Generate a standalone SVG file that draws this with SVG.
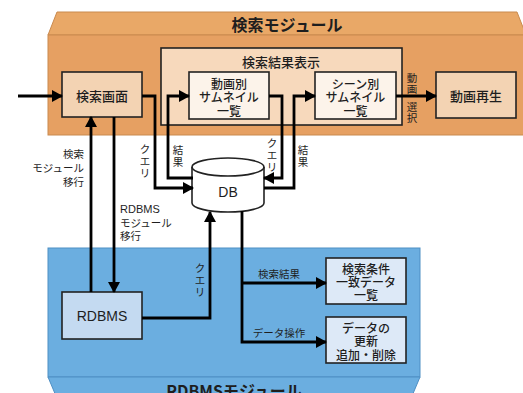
<svg xmlns="http://www.w3.org/2000/svg" width="523" height="393" viewBox="0 0 523 393">
<style>
text{font-family:"Noto Sans CJK JP","Noto Sans",sans-serif;fill:#1e1e1e}
.bt{font-size:13px;text-anchor:middle;dominant-baseline:central;font-weight:500}
.bs{font-size:12px;text-anchor:middle;dominant-baseline:central;font-weight:500}
.lb{font-size:10.5px;dominant-baseline:central}
.vl{font-size:10.5px;text-anchor:middle;dominant-baseline:central}
.ttl{font-size:16px;font-weight:bold;text-anchor:middle;dominant-baseline:central}
.box{stroke:#222;stroke-width:1.6}
.con{fill:none;stroke:#000;stroke-width:2.8;marker-end:url(#ah)}
</style>
<defs>
<marker id="ah" markerUnits="userSpaceOnUse" markerWidth="11" markerHeight="12" refX="10" refY="6" orient="auto">
<path d="M0,0 L11,6 L0,12 Z" fill="#000"/>
</marker>
</defs>
<g id="search-module">
<path d="M48,35 L57,12 L517,12 L526,35 Z" fill="#E9A867" stroke="#C98A4F" stroke-width="1"/>
<rect x="48" y="35" width="480" height="100" fill="#E6A062" stroke="#C98A4F" stroke-width="1"/>
<text class="ttl" x="287" y="24">検索モジュール</text>
</g>
<g id="rdbms-module">
<rect x="48" y="248" width="372" height="129" fill="#6BAEE0" stroke="#4E8FC4" stroke-width="1"/>
<path d="M48,377 L420,377 L412,396 L56,396 Z" fill="#6BAEE0" stroke="#4E8FC4" stroke-width="1"/>
<text class="ttl" x="234" y="390">RDBMSモジュール</text>
</g>
<g id="result-display">
<rect class="box" x="161" y="48" width="241" height="77" fill="#F7D9BC"/>
<text class="bt" x="281" y="61">検索結果表示</text>
</g>
<g id="search-screen">
<rect class="box" x="62" y="72" width="80" height="45" fill="#F3D3B3"/>
<text class="bt" x="102" y="95">検索画面</text>
</g>
<g id="video-thumbs">
<rect class="box" x="189" y="72" width="80" height="47" fill="#FCF3EA"/>
<text class="bs" x="229" y="83">動画別</text>
<text class="bs" x="229" y="96.5">サムネイル</text>
<text class="bs" x="229" y="110">一覧</text>
</g>
<g id="scene-thumbs">
<rect class="box" x="315" y="72" width="81" height="47" fill="#FCF3EA"/>
<text class="bs" x="355.5" y="83">シーン別</text>
<text class="bs" x="355.5" y="96.5">サムネイル</text>
<text class="bs" x="355.5" y="110">一覧</text>
</g>
<g id="playback">
<rect class="box" x="436" y="72" width="80" height="46" fill="#F3D3B3"/>
<text class="bt" x="476" y="95">動画再生</text>
</g>
<g id="db">
<path d="M192,167 A36,9 0 0 1 264,167 V203 A36,9 0 0 1 192,203 Z" fill="#fff" stroke="#222" stroke-width="1.6"/>
<path d="M192,167 A36,9 0 0 0 264,167" fill="none" stroke="#222" stroke-width="1.6"/>
<text class="bt" x="228" y="192" style="font-family:'Liberation Sans','Noto Sans',sans-serif;font-size:14px;font-weight:normal">DB</text>
</g>
<g id="rdbms">
<rect class="box" x="62" y="292" width="80" height="47" fill="#C4DAF1"/>
<text class="bt" x="102" y="316" style="font-family:'Liberation Sans','Noto Sans',sans-serif;font-size:14px;font-weight:normal">RDBMS</text>
</g>
<g id="match-list">
<rect class="box" x="326" y="258" width="80" height="46" fill="#DDE9F7"/>
<text class="bs" x="366" y="268.5">検索条件</text>
<text class="bs" x="366" y="281">一致データ</text>
<text class="bs" x="366" y="294">一覧</text>
</g>
<g id="data-update">
<rect class="box" x="326" y="317" width="80" height="46" fill="#DDE9F7"/>
<text class="bs" x="366" y="327.5">データの</text>
<text class="bs" x="366" y="340.5">更新</text>
<text class="bs" x="366" y="354">追加・削除</text>
</g>
<g id="connectors">
<path class="con" d="M18,96 H62"/>
<path class="con" d="M142,96 H155 V188 H193"/>
<path class="con" d="M193,178 H168 V96 H189"/>
<path class="con" d="M269,96 H282 V178 H264"/>
<path class="con" d="M264,188 H294 V96 H315"/>
<path class="con" d="M396,96 H436"/>
<path class="con" d="M91,292 V117"/>
<path class="con" d="M114,117 V292"/>
<path class="con" d="M142,318 H210 V212"/>
<path class="con" d="M242,211 V342 H326"/>
<path class="con" d="M242,283 H326"/>
</g>
<g id="labels">
<text class="vl" x="145"><tspan x="145" y="148">ク</tspan><tspan x="145" y="160">エ</tspan><tspan x="145" y="172">リ</tspan></text>
<text class="vl" x="178"><tspan x="178" y="149">結</tspan><tspan x="178" y="161">果</tspan></text>
<text class="vl" x="272"><tspan x="272" y="142">ク</tspan><tspan x="272" y="154">エ</tspan><tspan x="272" y="166">リ</tspan></text>
<text class="vl" x="303"><tspan x="303" y="149">結</tspan><tspan x="303" y="161">果</tspan></text>
<text class="vl" x="200"><tspan x="200" y="267">ク</tspan><tspan x="200" y="279">エ</tspan><tspan x="200" y="291">リ</tspan></text>
<text class="vl" x="412"><tspan x="412" y="77">動</tspan><tspan x="412" y="88">画</tspan><tspan x="412" y="106">選</tspan><tspan x="412" y="117">択</tspan></text>
<text class="lb" x="84" text-anchor="end"><tspan x="84" y="153">検索</tspan><tspan x="84" y="167">モジュール</tspan><tspan x="84" y="181">移行</tspan></text>
<text class="lb" x="120"><tspan x="120" y="209" style="font-family:'Liberation Sans','Noto Sans',sans-serif;font-size:11px">RDBMS</tspan><tspan x="120" y="222">モジュール</tspan><tspan x="120" y="235">移行</tspan></text>
<text class="lb" x="279" y="273" text-anchor="middle">検索結果</text>
<text class="lb" x="279" y="332" text-anchor="middle">データ操作</text>
</g>
</svg>
